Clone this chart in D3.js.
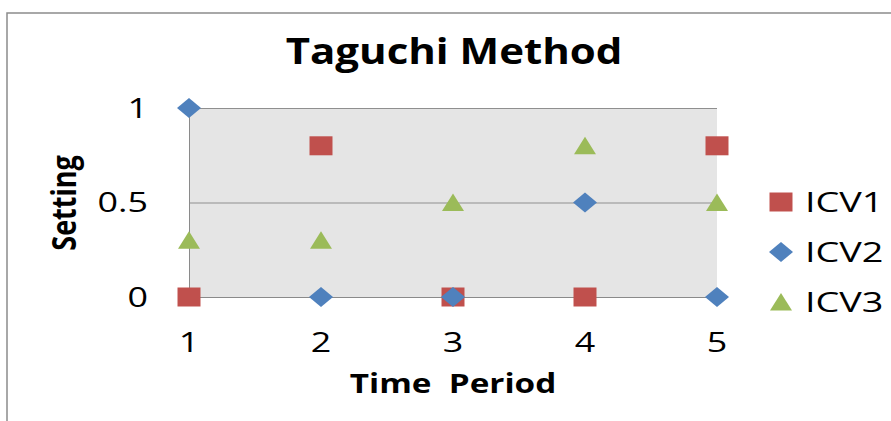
<!DOCTYPE html>
<html>
<head>
<meta charset="utf-8">
<script src="https://cdn.jsdelivr.net/npm/d3@7"></script>
<style>
  html, body { margin: 0; padding: 0; background: #fff; overflow: hidden; }
  text { font-family: "Open Sans", sans-serif; fill: #000; white-space: pre; }
</style>
</head>
<body>
<div id="chart"></div>
<script>
// data
const periods = [1, 2, 3, 4, 5];
const icv1 = [0, 0.8, 0, 0, 0.8];
const icv2 = [1, 0, 0, 0.5, 0];
const icv3 = [0.3, 0.3, 0.5, 0.8, 0.5];
const yTicks = [0, 0.5, 1];
const seriesNames = ["ICV1", "ICV2", "ICV3"];

const W = 891, H = 421;
const plot = { left: 189, right: 717, top: 108, bottom: 297 };
const sx = 1.33; // the source image is stretched sideways

const svg = d3.select("#chart").append("svg")
    .attr("width", W)
    .attr("height", H);

// outer chart border (right and bottom run off the picture)
svg.append("rect")
    .attr("x", 7).attr("y", 13)
    .attr("width", 1000).attr("height", 1000)
    .attr("fill", "none")
    .attr("stroke", "#8c8c8c")
    .attr("stroke-width", 1.5);

const x = d3.scaleLinear().domain([1, 5]).range([plot.left, plot.right]);
const y = d3.scaleLinear().domain([0, 1]).range([plot.bottom, plot.top]);

// plot background
svg.append("rect")
    .attr("x", x(1)).attr("y", y(1))
    .attr("width", x(5) - x(1))
    .attr("height", y(0) - y(1))
    .attr("fill", "#e5e5e5");

// gridlines
svg.append("g")
    .selectAll("line")
    .data(yTicks.filter(d => d > 0))
    .join("line")
    .attr("x1", x(1)).attr("x2", x(5))
    .attr("y1", d => y(d) + 0.5).attr("y2", d => y(d) + 0.5)
    .attr("stroke", "#8f8f8f")
    .attr("stroke-width", 1);

// axis lines
svg.append("line")
    .attr("x1", x(1) + 0.5).attr("x2", x(1) + 0.5)
    .attr("y1", y(1)).attr("y2", y(0))
    .attr("stroke", "#8a8a8a");
svg.append("line")
    .attr("x1", x(1)).attr("x2", x(5))
    .attr("y1", y(0) + 0.5).attr("y2", y(0) + 0.5)
    .attr("stroke", "#8a8a8a");

// text helper: stretched horizontally like the source
function label(parent, str, px, py, opts) {
    const t = parent.append("text")
        .attr("transform", `translate(${px},${py}) scale(${opts.sx || sx},1)`)
        .attr("text-anchor", opts.anchor || "start")
        .style("font-size", opts.size + "px")
        .style("font-weight", opts.weight || "normal")
        .text(str);
    return t;
}

// y tick labels
yTicks.forEach(v => {
    label(svg, d3.format("")(v), 148, y(v) + 9.5, { size: 27, anchor: "end" });
});

// x tick labels
periods.forEach(p => {
    label(svg, String(p), x(p), 352, { size: 27, anchor: "middle" });
});

// title and axis titles
label(svg, "Taguchi Method", 454, 64, { size: 35, weight: "bold", anchor: "middle", sx: 1.2 });
label(svg, "Time  Period", 453, 393, { size: 26, weight: "bold", anchor: "middle", sx: 1.28 });
svg.append("text")
    .attr("transform", "translate(76,203) rotate(-90) scale(1,1.28)")
    .attr("text-anchor", "middle")
    .style("font-size", "27px")
    .style("font-weight", "bold")
    .text("Setting");

// marker shapes (centre 0,0)
const shapes = {
    square: "M-11.5,-9.5H11.5V9.5H-11.5Z",
    diamond: "M0,-10L12,0L0,10L-12,0Z",
    triangle: "M0,-9L11,8.5H-11Z"
};
const series = [
    { name: seriesNames[0], values: icv1, color: "#c0504d", shape: shapes.square },
    { name: seriesNames[1], values: icv2, color: "#4f81bd", shape: shapes.diamond },
    { name: seriesNames[2], values: icv3, color: "#9bbb59", shape: shapes.triangle }
];

series.forEach(s => {
    svg.append("g")
        .selectAll("path")
        .data(s.values)
        .join("path")
        .attr("d", s.shape)
        .attr("transform", (d, i) => `translate(${x(periods[i])},${y(d)})`)
        .attr("fill", s.color);
});

// legend
const legend = svg.append("g");
series.forEach((s, i) => {
    const ly = 202 + i * 50;
    legend.append("path")
        .attr("d", s.shape)
        .attr("transform", `translate(781,${ly})`)
        .attr("fill", s.color);
    label(legend, s.name, 805, ly + 10, { size: 27, sx: 1.4 });
});
</script>
</body>
</html>
